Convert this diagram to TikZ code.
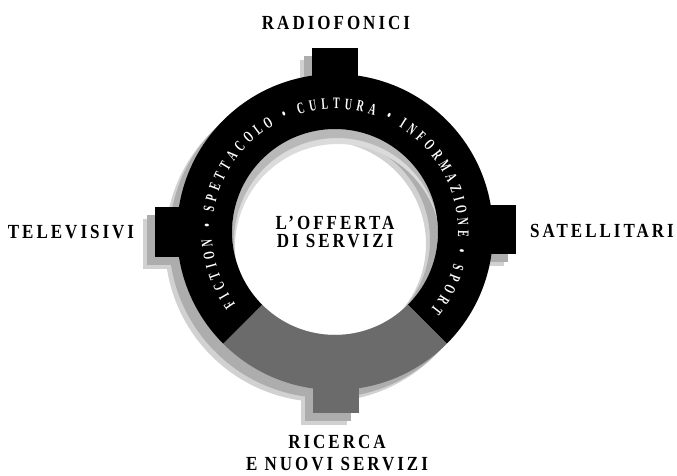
\documentclass[tikz,border=0pt]{standalone}
\usepackage{fontspec}
\setmainfont{Liberation Serif}
\newfontfamily\labfont[FakeStretch=0.85,LetterSpace=15]{Liberation Serif}
\newfontfamily\ringfont[FakeStretch=0.62]{Liberation Serif}
\newcommand\ringtextfont{\ringfont\bfseries\fontsize{16}{16}\selectfont}
\usetikzlibrary{decorations.text}
% ring body: #1 colour of main part, #2 colour of bottom part
\newcommand\ringshape[2]{%
  \fill[#1] (-45:158) arc[start angle=-45,end angle=225,radius=158]
     -- (225:103) arc[start angle=225,end angle=-45,radius=103] -- cycle;
  \fill[#2] (225:158) arc[start angle=225,end angle=315,radius=158]
     -- (315:103) arc[start angle=315,end angle=225,radius=103] -- cycle;
  \fill[#1] (-23,130) rectangle (23,184);
  \fill[#1] (-180,-25) rectangle (-130,25);
  \fill[#1] (130,-22) rectangle (181,27);
  \fill[#2] (-22,-130) rectangle (24,-181);
}
\begin{document}
\begin{tikzpicture}[x=1pt,y=1pt,
  lab/.style={font=\labfont\bfseries\fontsize{20}{22}\selectfont, inner sep=0pt, align=center}]
\useasboundingbox (0,0) rectangle (677,475);
\fill[white] (0,0) rectangle (677,475);
\coordinate (c) at (335,243);
% soft shadow outside
\begin{scope}[shift={(323,231)}] \ringshape{black!18}{black!18} \end{scope}
\begin{scope}[shift={(327,235)}] \ringshape{black!32}{black!32} \end{scope}
% shadow inside the hole, at its top
\begin{scope}[shift={(335,243)}]
  \fill[black!14, even odd rule] (0,0) circle[radius=103] (3,-15) circle[radius=103];
  \fill[black!28, even odd rule] (0,0) circle[radius=103] (2,-9) circle[radius=103];
  \ringshape{black}{black!58}
  \path[font=\ringtextfont, decorate, decoration={text along path,
      text={|\ringtextfont|FICTION • SPETTACOLO • CULTURA • INFORMAZIONE • SPORT},
      text align=fit to path, text color=white}]
    (216:123) arc[start angle=216, end angle=-39, radius=123];
\end{scope}
\node[lab] (radio) at (336,452) {RADIOFONICI};
\node[lab] (tele) at (71,243) {TELEVISIVI};
\node[lab] (sat) at (602,244) {SATELLITARI};
\node[lab] (ric) at (337,21.5) {RICERCA\\E NUOVI SERVIZI};
\node[lab, font=\labfont\bfseries\fontsize{20}{18}\selectfont] (off) at (c) {L’OFFERTA\\DI SERVIZI};
\end{tikzpicture}
\end{document}
